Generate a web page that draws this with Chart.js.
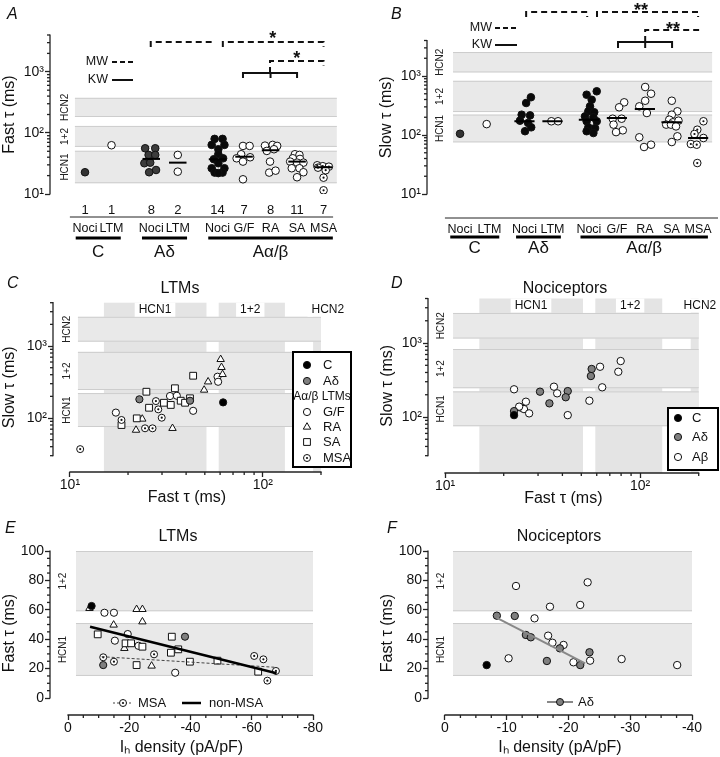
<!DOCTYPE html>
<html><head><meta charset="utf-8">
<script src="https://cdn.jsdelivr.net/npm/chart.js@4.4.1/dist/chart.umd.min.js"></script>
<style>
html,body{margin:0;padding:0;background:#fff;}
#wrap{position:relative;width:720px;height:757px;overflow:hidden;background:#fff}
#wrap canvas{position:absolute;left:0;top:0}
</style></head><body><div id="wrap">
<canvas id="pA" width="720" height="757"></canvas>
<canvas id="pB" width="720" height="757"></canvas>
<canvas id="pC" width="720" height="757"></canvas>
<canvas id="pD" width="720" height="757"></canvas>
<canvas id="pE" width="720" height="757"></canvas>
<canvas id="pF" width="720" height="757"></canvas>
</div>
<script>
const FONT = "'Liberation Sans', Arial, Helvetica, sans-serif";
const SUP = {10:'10\u00B9', 100:'10\u00B2', 1000:'10\u00B3'};

// ================= DATA =================
// categories (panels A and B)
const catLabels = ['Noci','LTM','Noci','LTM','Noci','G/F','RA','SA','MSA'];
const familyLabels = ['C','A\u03B4','A\u03B1/\u03B2'];
const cellCounts = ['1','1','8','2','14','7','8','11','7'];

// HCN reference ranges (ms)
const bandNames = ['HCN1','1+2','HCN2'];
const fastBands = [[15,51],[59,130],[182,375]];
const slowBands = [[75,222],[245,830],[1150,2550]];

// Panel A: fast tau (ms) by category
const fastC_Noci = [22.7];
const fastC_LTM = [62.8];
const fastAd_Noci = [56, 56, 43.6, 43.6, 31.9, 32.6, 24.7, 22.7];
const fastAd_LTM = [43.6, 23.2];
const fastAab_Noci = [79.8, 79.8, 63.6, 63.6, 54, 44.7, 37.1, 38.4, 31.9, 26.4, 26.4, 22.4, 22.4, 22];
const fastGF = [61.2, 61.2, 44.7, 38.4, 39.9, 33.9, 17.4];
const fastRA = [61.9, 63.6, 61.2, 50.7, 54, 33.9, 22.4, 24.1];
const fastSA = [44.7, 43.6, 38.4, 37.5, 33.9, 32.6, 32.6, 26.4, 26.4, 22.7, 18.8];
const fastMSA = [29.5, 28.5, 28, 27, 24.5, 18.5, 11.5];
const fastMedians = [null, null, 37.5, 32.6, 37, 40.8, 52, 33.9, 27.4];

// Panel B: slow tau (ms) by category
const slowC_Noci = [105];
const slowC_LTM = [153];
const slowAd_Noci = [436, 349, 221, 215, 175, 160, 135, 116];
const slowAd_LTM = [171, 171];
const slowAab_Noci = [551, 482, 396, 306, 252, 243, 207, 200, 171, 171, 135, 131, 116, 108];
const slowGF = [358, 295, 189, 189, 150, 120, 112];
const slowRA = [651, 501, 381, 306, 236, 91.4, 68.5, 62.6];
const slowSA = [381, 252, 221, 182, 150, 164, 175, 150, 140, 95, 76];
const slowMSA = [171, 123, 104, 70.4, 68.5, 89, 33.5];
const slowMedians = [null, null, 171, 171, 181, 194, 276, 164, 89];

// Panel C: LTMs, fast tau (x) vs slow tau (y)
const ltmC = [{x:62.2,y:165}];
const ltmAd = [{x:22.9,y:182},{x:41.9,y:174}];
const ltmGF = [{x:17.3,y:119},{x:33,y:202},{x:35.8,y:204},{x:43.5,y:126},{x:58.2,y:375},{x:58.6,y:319}];
const ltmRA = [{x:22,y:68},{x:23.7,y:97},{x:34,y:72},{x:49.6,y:245},{x:52,y:319},{x:60.4,y:653},{x:61,y:506},{x:61.8,y:404}];
const ltmSA = [{x:24.9,y:232},{x:25.7,y:139},{x:22.2,y:99},{x:18.5,y:80},{x:30.7,y:163},{x:33.3,y:152},{x:35,y:259},{x:37.5,y:174},{x:39.5,y:163},{x:41.9,y:188},{x:43.5,y:387}];
const ltmMSA = [{x:11.3,y:37},{x:18.5,y:94},{x:24.5,y:72},{x:26.8,y:72},{x:27.9,y:172},{x:28.7,y:132},{x:29.9,y:101}];

// Panel D: nociceptors, fast tau (x) vs slow tau (y)
const nocC = [{x:22.6,y:106}];
const nocAd = [{x:22.6,y:120},{x:30.7,y:220},{x:34.3,y:153},{x:42.6,y:224},{x:41.6,y:185},{x:56.5,y:446},{x:56,y:358}];
const nocAb = [{x:22.6,y:237},{x:26,y:161},{x:24.5,y:134},{x:25.4,y:128},{x:24,y:138},{x:27,y:112},{x:36.2,y:257},{x:37.6,y:209},{x:42.6,y:106},{x:55,y:166},{x:64,y:252},{x:62.4,y:478},{x:77.4,y:409},{x:79.6,y:571}];

// Panel E: LTMs, Ih density (x, pA/pF) vs fast tau (y, ms)
const eC = [{x:-7.7,y:62.6}];
const eAd = [{x:-11.5,y:22.4},{x:-38.2,y:41.7}];
const eGF = [{x:-11.9,y:58},{x:-15,y:58},{x:-15.3,y:39},{x:-19.5,y:43.5},{x:-23,y:35.5},{x:-35,y:17.2}];
const eRA = [{x:-7,y:61},{x:-14.9,y:49.7},{x:-22.4,y:60.3},{x:-24.3,y:60.3},{x:-24.3,y:51.9},{x:-18.4,y:33.8},{x:-27.3,y:21.8}];
const eSA = [{x:-9.7,y:43.3},{x:-18.8,y:37.2},{x:-20.6,y:37.2},{x:-24.3,y:34.9},{x:-22.4,y:22.4},{x:-33.9,y:41.7},{x:-33.6,y:30.8},{x:-36,y:33.1},{x:-39.8,y:24.7},{x:-48.8,y:25.4},{x:-62.1,y:17.9}];
const eMSA = [{x:-11.5,y:27.7},{x:-15,y:24.7},{x:-28.1,y:29.7},{x:-60.8,y:28.6},{x:-63.8,y:26.3},{x:-67.9,y:18.4},{x:-65.1,y:11.8}];
const eFitNonMSA = [{x:-7.2,y:48.5},{x:-68.1,y:16.8}];
const eFitMSA = [{x:-11,y:28.1},{x:-67.6,y:20.9}];

// Panel F: nociceptors, Ih density vs fast tau
const fC = [{x:-6.75,y:22.4}];
const fAd = [{x:-8.4,y:56},{x:-11.3,y:55.8},{x:-13.1,y:42.9},{x:-13.9,y:41.3},{x:-16.5,y:25.2},{x:-18.6,y:33.8},{x:-21.9,y:22.4},{x:-23.4,y:31.1}];
const fAb = [{x:-11.5,y:76.2},{x:-23.1,y:78.7},{x:-17,y:62.1},{x:-21.9,y:63.3},{x:-14.5,y:54.2},{x:-16.7,y:42.4},{x:-17.4,y:37.6},{x:-19.2,y:36.1},{x:-10.3,y:27},{x:-20.8,y:24.3},{x:-23.5,y:25.4},{x:-28.6,y:26.5},{x:-37.6,y:22.4}];
const fFitAd = [{x:-8.4,y:54.5},{x:-22.7,y:23.5}];

// ================= LAYOUT (positions / jitter, not data) =================
const posA = [0,1,2.5,3.5,5,6,7,8,9];
const posB = [0,1.05,2.3,3.3,4.6,5.6,6.6,7.55,8.5];
const jitA = [[0],[0],[-0.23,0.15,-0.1,0.15,-0.26,-0.04,0.18,-0.08],[0,0],
  [-0.11,0.19,-0.22,0.26,0.03,0.03,-0.14,0.21,0.03,-0.22,0.26,-0.11,0.19,0.03],
  [-0.04,0.21,-0.11,-0.28,0.23,-0.04,-0.04],[-0.21,0.08,0.25,-0.14,0.13,-0.02,-0.05,0.19],
  [-0.08,0.09,-0.16,0.11,-0.26,0,0.24,-0.2,0.09,0.24,0],[-0.24,-0.03,0.2,-0.21,0.08,0,0]];
const jitB = [[0],[-0.1],[0.23,0.06,-0.1,0.2,-0.16,0.13,0.24,0.02],[-0.04,0.2],
  [0.28,-0.08,0.1,0.04,-0.02,0.19,-0.14,0.16,-0.08,0.28,-0.02,0.22,-0.08,0.16],
  [0.26,0.08,-0.15,0.17,-0.12,0.21,-0.03],[0.01,0.22,0.01,-0.2,0.07,-0.2,0.22,-0.03],
  [0.01,0.21,0.01,-0.08,-0.19,0.05,0.25,-0.02,0.16,0.21,0.01],[0.19,-0.03,-0.13,-0.26,-0.05,0.19,-0.03]];

function logMinor(lo, hi){ const out=[]; for(let e=0;e<5;e++){ for(let m=2;m<=9;m++){ const v=m*Math.pow(10,e); if(v>=lo-1e-9&&v<=hi+1e-9) out.push(v);} } return out; }
function linMinor(lo, hi, step, major){ const out=[]; for(let v=lo; v<=hi+1e-9; v+=step){ const r=Math.round(v*100)/100; if(Math.abs(r/major-Math.round(r/major))>1e-6) out.push(r);} return out; }

// ================= DRAW HELPERS =================
function seg(ctx,x0,y0,x1,y1){ ctx.beginPath(); ctx.moveTo(x0,y0); ctx.lineTo(x1,y1); ctx.stroke(); }
function text(ctx,t,x,y,o={}){
  ctx.save();
  ctx.font=(o.italic?'italic ':'')+(o.bold?'bold ':'')+(o.size||13)+'px '+FONT;
  ctx.fillStyle=o.color||'#111'; ctx.textAlign=o.align||'center'; ctx.textBaseline=o.base||'middle';
  ctx.translate(x,y); if(o.rot) ctx.rotate(o.rot); ctx.fillText(t,0,0); ctx.restore();
}
function marker(ctx,shape,x,y,r,fill){
  ctx.save(); ctx.fillStyle=fill; ctx.strokeStyle='#111'; ctx.lineWidth=1; ctx.setLineDash([]);
  ctx.beginPath();
  if(shape==='triangle'){ const a=2*Math.PI/3; ctx.moveTo(x,y-r); ctx.lineTo(x+r*Math.sin(a),y-r*Math.cos(a)); ctx.lineTo(x+r*Math.sin(2*a),y-r*Math.cos(2*a)); ctx.closePath(); }
  else if(shape==='rect'){ const s=r*Math.SQRT1_2; ctx.rect(x-s,y-s,2*s,2*s); }
  else ctx.arc(x,y,r,0,Math.PI*2);
  ctx.fill(); ctx.stroke();
  if(shape==='dot'){ ctx.beginPath(); ctx.arc(x,y,1.1,0,Math.PI*2); ctx.fillStyle='#111'; ctx.fill(); }
  ctx.restore();
}

const DECOR = {};
const decorPlugin = {
  id:'decor',
  beforeDatasetsDraw(chart){
    const o=DECOR[chart.canvas.id]; if(!o) return;
    const ctx=chart.ctx, ca=chart.chartArea, xs=chart.scales.x, ys=chart.scales.y;
    const X=v=>xs.getPixelForValue(v), Y=v=>ys.getPixelForValue(v);
    ctx.save();
    if(o.vBands){
      o.vBands.forEach(b=>{ const a=X(b[0]), c=Math.min(X(b[1]),ca.right);
        ctx.fillStyle='#e4e4e4'; ctx.fillRect(a,ca.top,c-a,ca.bottom-ca.top); });
    }
    if(o.hBands){
      const xa=X(o.hBandX[0]), xb=X(o.hBandX[1]); const l=Math.min(xa,xb), r=Math.max(xa,xb);
      o.hBands.forEach((b,i)=>{
        const t=Math.max(Y(b[1]),ca.top), bt=Y(b[0]);
        ctx.fillStyle='#e9e9e9'; ctx.fillRect(l,t,r-l,bt-t);
        ctx.strokeStyle='#cdcdcd'; ctx.lineWidth=1; seg(ctx,l,t+0.5,r,t+0.5); seg(ctx,l,bt-0.5,r,bt-0.5);
        text(ctx,o.bandNames[i],o.bandLabelX,(t+bt)/2,{size:10,rot:-Math.PI/2,color:'#222'});
      });
    }
    if(o.vLabels){
      o.vLabels.forEach(L=>{
        ctx.font='12px '+FONT; const w=ctx.measureText(L.t).width+8; const cx=X(L.x), cy=ca.top+7;
        ctx.fillStyle='#fff'; ctx.fillRect(cx-w/2,ca.top,w,14);
        text(ctx,L.t,cx,cy,{size:12});
      });
    }
    ctx.restore();
  },
  afterDatasetsDraw(chart){
    const o=DECOR[chart.canvas.id]; if(!o||!o.legend) return;
    const ctx=chart.ctx, g=o.legend;
    ctx.save();
    ctx.fillStyle='#fff'; ctx.fillRect(g.box[0],g.box[1],g.box[2]-g.box[0],g.box[3]-g.box[1]);
    ctx.strokeStyle='#000'; ctx.lineWidth=2; ctx.strokeRect(g.box[0],g.box[1],g.box[2]-g.box[0],g.box[3]-g.box[1]);
    g.items.forEach(it=>{
      if(it.header){ text(ctx,it.text,(g.box[0]+g.box[2])/2,it.y,{size:12}); return; }
      marker(ctx,it.shape,g.mx,it.y,it.r,it.fill);
      text(ctx,it.text,g.tx,it.y,{size:13,align:'left'});
    });
    ctx.restore();
  },
  afterDraw(chart){
    const o=DECOR[chart.canvas.id]; if(!o) return;
    const ctx=chart.ctx, ca=chart.chartArea, xs=chart.scales.x, ys=chart.scales.y;
    const X=v=>xs.getPixelForValue(v), Y=v=>ys.getPixelForValue(v);
    ctx.save();
    ctx.strokeStyle='#222'; ctx.lineWidth=1.3; ctx.lineCap='butt';
    if(o.yLine) seg(ctx,ca.left,Y(o.yLine[0])+0.6,ca.left,Y(o.yLine[1])-0.6);
    if(o.xLine) seg(ctx,X(o.xLine[0])-0.6,ca.bottom,X(o.xLine[1])+0.6,ca.bottom);
    (o.yMinor||[]).forEach(v=>seg(ctx,ca.left-3,Y(v),ca.left,Y(v)));
    (o.xMinor||[]).forEach(v=>seg(ctx,X(v),ca.bottom,X(v),ca.bottom+3));
    // significance brackets
    (o.brackets||[]).forEach(b=>{
      ctx.strokeStyle='#111'; ctx.lineWidth=2; ctx.setLineDash(b.dash?[6,4]:[]);
      const x0=X(b.x0), x1=X(b.x1);
      ctx.beginPath(); ctx.moveTo(x0,b.y+b.dl); ctx.lineTo(x0,b.y); ctx.lineTo(x1,b.y); ctx.lineTo(x1,b.y+b.dr); ctx.stroke();
      ctx.setLineDash([]);
      (b.mid||[]).forEach(m=>seg(ctx,X(m),b.y,X(m),b.y+b.dl));
    });
    ctx.setLineDash([]);
    (o.stars||[]).forEach(s=>text(ctx,s.t,X(s.x),s.y,{size:18,bold:true,base:'alphabetic'}));
    if(o.mwkw){
      const m=o.mwkw;
      text(ctx,'MW',m.tx,m.y1,{size:12.5,align:'right'});
      text(ctx,'KW',m.tx,m.y2,{size:12.5,align:'right'});
      ctx.lineWidth=2; ctx.strokeStyle='#111';
      ctx.setLineDash([5,3]); seg(ctx,m.lx[0],m.y1,m.lx[1],m.y1);
      ctx.setLineDash([]); seg(ctx,m.lx[0],m.y2,m.lx[1],m.y2);
    }
    if(o.cats){
      const c=o.cats;
      if(c.counts) c.counts.forEach((t,i)=>text(ctx,t,X(c.pos[i]),c.countY,{size:13}));
      ctx.strokeStyle='#222'; ctx.lineWidth=1; seg(ctx,X(c.line[0]),c.lineY,X(c.line[1]),c.lineY);
      c.labels.forEach((t,i)=>text(ctx,t,X(c.pos[i]),c.subY,{size:12.5}));
      c.groups.forEach(gp=>{ ctx.strokeStyle='#000'; ctx.lineWidth=3; seg(ctx,X(gp.from),c.underY,X(gp.to),c.underY);
        text(ctx,gp.label,(X(gp.from)+X(gp.to))/2,c.groupY,{size:17}); });
    }
    if(o.lineLegend){
      o.lineLegend.forEach(L=>{
        ctx.strokeStyle=L.color; ctx.lineWidth=L.w; ctx.setLineDash(L.dash||[]);
        seg(ctx,L.x0,L.y,L.x1,L.y); ctx.setLineDash([]);
        if(L.shape) marker(ctx,L.shape,(L.x0+L.x1)/2,L.y,3.5,L.fill);
        text(ctx,L.text,L.tx,L.y,{size:13,align:'left'});
      });
    }
    (o.texts||[]).forEach(t=>text(ctx,t.t,t.x,t.y,t));
    ctx.restore();
  }
};
Chart.register(decorPlugin);

// ================= SCALE BUILDERS =================
const tickFont = {family:FONT,size:14};
function gridOpt(){ return {display:true,drawOnChartArea:false,drawTicks:true,tickLength:5,tickColor:'#222',tickWidth:1.3}; }
function yLog(min,max,majors,title,w){
  return {type:'logarithmic',position:'left',min,max,bounds:'data',
    afterBuildTicks:s=>{ s.ticks=majors.map(v=>({value:v})); },
    afterFit:s=>{ s.width=w; },
    ticks:{autoSkip:false,maxRotation:0,padding:1,color:'#111',font:tickFont,callback:v=>SUP[v]||''},
    grid:gridOpt(), border:{display:false},
    title:{display:true,text:title,color:'#111',font:{family:FONT,size:16},padding:{top:0,bottom:0}}};
}
function xLog(min,max,majors,title,h,tpad){
  return {type:'logarithmic',position:'bottom',min,max,bounds:'data',
    afterBuildTicks:s=>{ s.ticks=majors.map(v=>({value:v})); },
    afterFit:s=>{ s.height=h; },
    ticks:{autoSkip:false,maxRotation:0,padding:0,color:'#111',font:tickFont,callback:v=>SUP[v]||''},
    grid:gridOpt(), border:{display:false},
    title:{display:true,text:title,color:'#111',font:{family:FONT,size:16},padding:{top:0,bottom:tpad}}};
}
function yLin(min,max,majors,title,w){
  return {type:'linear',position:'left',min,max,bounds:'data',
    afterBuildTicks:s=>{ s.ticks=majors.map(v=>({value:v})); },
    afterFit:s=>{ s.width=w; },
    ticks:{autoSkip:false,maxRotation:0,padding:1,color:'#111',font:tickFont,callback:v=>String(v)},
    grid:gridOpt(), border:{display:false},
    title:{display:true,text:title,color:'#111',font:{family:FONT,size:16},padding:{top:0,bottom:0}}};
}
function xLin(min,max,majors,title,h,tpad){
  return {type:'linear',position:'bottom',reverse:true,min,max,bounds:'data',
    afterBuildTicks:s=>{ s.ticks=majors.map(v=>({value:v})); },
    afterFit:s=>{ s.height=h; },
    ticks:{autoSkip:false,maxRotation:0,padding:0,color:'#111',font:tickFont,callback:v=>String(v)},
    grid:gridOpt(), border:{display:false},
    title:{display:true,text:title,color:'#111',font:{family:FONT,size:16},padding:{top:0,bottom:tpad}}};
}
function make(id,geom,scales,datasets){
  const pad={left:geom.left-geom.yW, top:geom.top, right:720-geom.right, bottom:757-geom.bottom-(geom.xH||0)};
  return new Chart(document.getElementById(id),{
    type:'scatter', data:{datasets},
    options:{responsive:false,animation:false,devicePixelRatio:1,events:[],
      layout:{padding:pad,autoPadding:false},
      plugins:{legend:{display:false},tooltip:{enabled:false},title:{display:false}},
      scales}
  });
}
function pt(style,fill,r){ return {pointStyle:style,pointRadius:r,pointHoverRadius:r,pointBackgroundColor:fill,pointBorderColor:'#111',pointBorderWidth:1,showLine:false}; }
const dotStyle = {pointStyle:'circle',pointRadius:1.1,pointHoverRadius:1.1,pointBackgroundColor:'#111',pointBorderWidth:0,showLine:false};
function stripSets(groups,pos,jit,med,fills,msaIndex,r,halfW){
  const sets=[];
  med.forEach((m,i)=>{ if(m!=null) sets.push({data:[{x:pos[i]-halfW,y:m},{x:pos[i]+halfW,y:m}],showLine:true,borderColor:'#000',borderWidth:2,pointRadius:0,pointHoverRadius:0}); });
  groups.forEach((vals,i)=>{
    const data=vals.map((v,k)=>({x:pos[i]+jit[i][k],y:v}));
    if(i===msaIndex) sets.push(Object.assign({data},dotStyle));
    sets.push(Object.assign({data},pt('circle',fills[i],r)));
  });
  return sets;
}

// ================= PANEL A =================
DECOR.pA = {
  hBands:fastBands, hBandX:[-0.38,9.5], bandNames, bandLabelX:65,
  yLine:[10,4000], yMinor:logMinor(10,4000),
  brackets:[{x0:2.48,x1:4.74,y:42,dash:true,dl:5,dr:5},{x0:5.2,x1:9.0,y:42,dash:true,dl:5,dr:5},
            {x0:6.98,x1:9.0,y:61,dash:true,dl:12,dr:5},{x0:5.96,x1:8.0,y:73,dash:false,dl:5,dr:5,mid:[7.0]}],
  stars:[{t:'*',x:7.08,y:43.5},{t:'*',x:7.99,y:63.5}],
  mwkw:{tx:108,lx:[112,133],y1:62,y2:80},
  cats:{pos:posA,counts:cellCounts,countY:210,line:[-0.57,9.36],lineY:217,labels:catLabels,subY:229,underY:238,groupY:252,
        groups:[{label:familyLabels[0],from:-0.35,to:1.35},{label:familyLabels[1],from:2.15,to:3.85},{label:familyLabels[2],from:4.65,to:9.35}]},
  texts:[{t:'A',x:7,y:15,size:16,italic:true,align:'left'}]
};
make('pA',{left:50,top:35,right:340,bottom:194,yW:50},
  {x:{type:'linear',display:false,min:-1.32,max:9.62}, y:yLog(10,4000,[10,100,1000],'Fast \u03C4 (ms)',50)},
  stripSets([fastC_Noci,fastC_LTM,fastAd_Noci,fastAd_LTM,fastAab_Noci,fastGF,fastRA,fastSA,fastMSA],posA,jitA,fastMedians,
    ['#333','#fff','#3c3c3c','#fff','#0a0a0a','#fff','#fff','#fff','#fff'],8,3.8,0.33));

// ================= PANEL B =================
DECOR.pB = {
  hBands:slowBands, hBandX:[-0.25,9.0], bandNames, bandLabelX:440,
  yLine:[10,4000], yMinor:logMinor(10,4000),
  brackets:[{x0:2.36,x1:4.54,y:12,dash:true,dl:5,dr:5},{x0:4.89,x1:8.5,y:12,dash:true,dl:5,dr:5},
            {x0:6.61,x1:8.5,y:30,dash:true,dl:12,dr:5},{x0:5.64,x1:7.57,y:42,dash:false,dl:6,dr:6,mid:[6.61]}],
  stars:[{t:'**',x:6.46,y:15.5},{t:'**',x:7.6,y:34.5}],
  mwkw:{tx:492,lx:[495,517],y1:28,y2:45},
  cats:{pos:posB,counts:null,line:[-0.54,9.21],lineY:218,labels:catLabels,subY:230,underY:237,groupY:248,
        groups:[{label:familyLabels[0],from:-0.35,to:1.4},{label:familyLabels[1],from:2.0,to:3.6},{label:familyLabels[2],from:4.3,to:8.85}]},
  texts:[{t:'B',x:391,y:15,size:16,italic:true,align:'left'}]
};
make('pB',{left:427,top:40.5,right:718,bottom:194,yW:50},
  {x:{type:'linear',display:false,min:-1.18,max:9.21}, y:yLog(10,4000,[10,100,1000],'Slow \u03C4 (ms)',50)},
  stripSets([slowC_Noci,slowC_LTM,slowAd_Noci,slowAd_LTM,slowAab_Noci,slowGF,slowRA,slowSA,slowMSA],posB,jitB,slowMedians,
    ['#333','#fff','#0a0a0a','#fff','#0a0a0a','#fff','#fff','#fff','#fff'],8,3.8,0.36));

// ================= PANEL C =================
DECOR.pC = {
  vBands:fastBands, hBands:slowBands, hBandX:[11,200], bandNames, bandLabelX:67,
  vLabels:[{t:'HCN1',x:27.6},{t:'1+2',x:86},{t:'HCN2',x:217}],
  yLine:[30,4000], xLine:[10,200], yMinor:logMinor(30,4000), xMinor:logMinor(10,200),
  legend:{box:[293,352,351,467],mx:307,tx:323,items:[
    {y:365,shape:'circle',r:3.6,fill:'#000',text:'C'},
    {y:381,shape:'circle',r:3.6,fill:'#7f7f7f',text:'A\u03B4'},
    {y:397,header:true,text:'A\u03B1/\u03B2 LTMs'},
    {y:412,shape:'circle',r:3.6,fill:'#fff',text:'G/F'},
    {y:427,shape:'triangle',r:4.3,fill:'#fff',text:'RA'},
    {y:442,shape:'rect',r:4.8,fill:'#fff',text:'SA'},
    {y:458,shape:'dot',r:3.5,fill:'#fff',text:'MSA'}]},
  texts:[{t:'C',x:7,y:284,size:16,italic:true,align:'left'},{t:'LTMs',x:180,y:289,size:16}]
};
make('pC',{left:53,top:302.7,right:321,bottom:472,yW:53,xH:43},
  {x:xLog(8.17,200,[10,100],'Fast \u03C4 (ms)',43,8), y:yLog(17.8,4000,[100,1000],'Slow \u03C4 (ms)',53)},
  [Object.assign({data:ltmC},pt('circle','#000',3.6)),
   Object.assign({data:ltmAd},pt('circle','#7f7f7f',3.6)),
   Object.assign({data:ltmMSA},dotStyle),
   Object.assign({data:ltmMSA},pt('circle','#fff',3.5)),
   Object.assign({data:ltmSA},pt('rect','#fff',4.8)),
   Object.assign({data:ltmRA},pt('triangle','#fff',4.3)),
   Object.assign({data:ltmGF},pt('circle','#fff',3.6))]);

// ================= PANEL D =================
DECOR.pD = {
  vBands:fastBands, hBands:slowBands, hBandX:[11,200], bandNames, bandLabelX:441,
  vLabels:[{t:'HCN1',x:27.6},{t:'1+2',x:89},{t:'HCN2',x:203}],
  yLine:[30,4000], xLine:[10,200], yMinor:logMinor(30,4000), xMinor:logMinor(10,200),
  legend:{box:[668,408,718,470],mx:678,tx:692,items:[
    {y:418,shape:'circle',r:3.6,fill:'#000',text:'C'},
    {y:437,shape:'circle',r:3.6,fill:'#7f7f7f',text:'A\u03B4'},
    {y:457,shape:'circle',r:3.6,fill:'#fff',text:'A\u03B2'}]},
  texts:[{t:'D',x:391,y:284,size:16,italic:true,align:'left'},{t:'Nociceptors',x:565,y:289,size:16}]
};
make('pD',{left:428,top:298.5,right:698.7,bottom:473,yW:50,xH:42},
  {x:xLog(8.18,200,[10,100],'Fast \u03C4 (ms)',42,7), y:yLog(17.5,4000,[100,1000],'Slow \u03C4 (ms)',50)},
  [Object.assign({data:nocC},pt('circle','#000',3.7)),
   Object.assign({data:nocAd},pt('circle','#7f7f7f',3.7)),
   Object.assign({data:nocAb},pt('circle','#fff',3.7))]);

// ================= PANEL E =================
DECOR.pE = {
  hBands:[fastBands[0],fastBands[1]], hBandX:[-2.6,-80], bandNames, bandLabelX:63,
  yLine:[0,100], xLine:[0,-80], yMinor:linMinor(0,100,5,20), xMinor:linMinor(-80,0,5,20),
  lineLegend:[{x0:113,x1:133,y:703,color:'#444',w:1,dash:[2,2],shape:'dot',fill:'#fff',text:'MSA',tx:138},
              {x0:182,x1:201,y:703,color:'#000',w:2.5,text:'non-MSA',tx:209}],
  texts:[{t:'E',x:5,y:529,size:16,italic:true,align:'left'},{t:'LTMs',x:178,y:537,size:16}]
};
make('pE',{left:50,top:551,right:313,bottom:715,yW:50,xH:42},
  {x:xLin(-80,5.88,[0,-20,-40,-60,-80],'I\u2095 density (pA/pF)',42,0), y:yLin(-11.56,100,[0,20,40,60,80,100],'Fast \u03C4 (ms)',50)},
  [{data:eFitNonMSA,showLine:true,borderColor:'#000',borderWidth:2.5,pointRadius:0,pointHoverRadius:0},
   {data:eFitMSA,showLine:true,borderColor:'#444',borderWidth:1,borderDash:[3,2],pointRadius:0,pointHoverRadius:0},
   Object.assign({data:eC},pt('circle','#000',3.6)),
   Object.assign({data:eAd},pt('circle','#7f7f7f',3.6)),
   Object.assign({data:eMSA},dotStyle),
   Object.assign({data:eMSA},pt('circle','#fff',3.5)),
   Object.assign({data:eSA},pt('rect','#fff',4.8)),
   Object.assign({data:eRA},pt('triangle','#fff',4.3)),
   Object.assign({data:eGF},pt('circle','#fff',3.6))]);

// ================= PANEL F =================
DECOR.pF = {
  hBands:[fastBands[0],fastBands[1]], hBandX:[-1.3,-40], bandNames, bandLabelX:441,
  yLine:[0,100], xLine:[0,-40], yMinor:linMinor(0,100,5,20), xMinor:linMinor(-40,0,2.5,10),
  lineLegend:[{x0:547,x1:573,y:702,color:'#888',w:2,shape:'circle',fill:'#7f7f7f',text:'A\u03B4',tx:578}],
  texts:[{t:'F',x:387,y:529,size:16,italic:true,align:'left'},{t:'Nociceptors',x:559,y:537,size:16}]
};
make('pF',{left:428,top:551,right:692,bottom:715,yW:50,xH:42},
  {x:xLin(-40,2.75,[0,-10,-20,-30,-40],'I\u2095 density (pA/pF)',42,0), y:yLin(-11.56,100,[0,20,40,60,80,100],'Fast \u03C4 (ms)',50)},
  [{data:fFitAd,showLine:true,borderColor:'#888',borderWidth:2,pointRadius:0,pointHoverRadius:0},
   Object.assign({data:fC},pt('circle','#000',3.7)),
   Object.assign({data:fAd},pt('circle','#7f7f7f',3.7)),
   Object.assign({data:fAb},pt('circle','#fff',3.7))]);
</script></body></html>
